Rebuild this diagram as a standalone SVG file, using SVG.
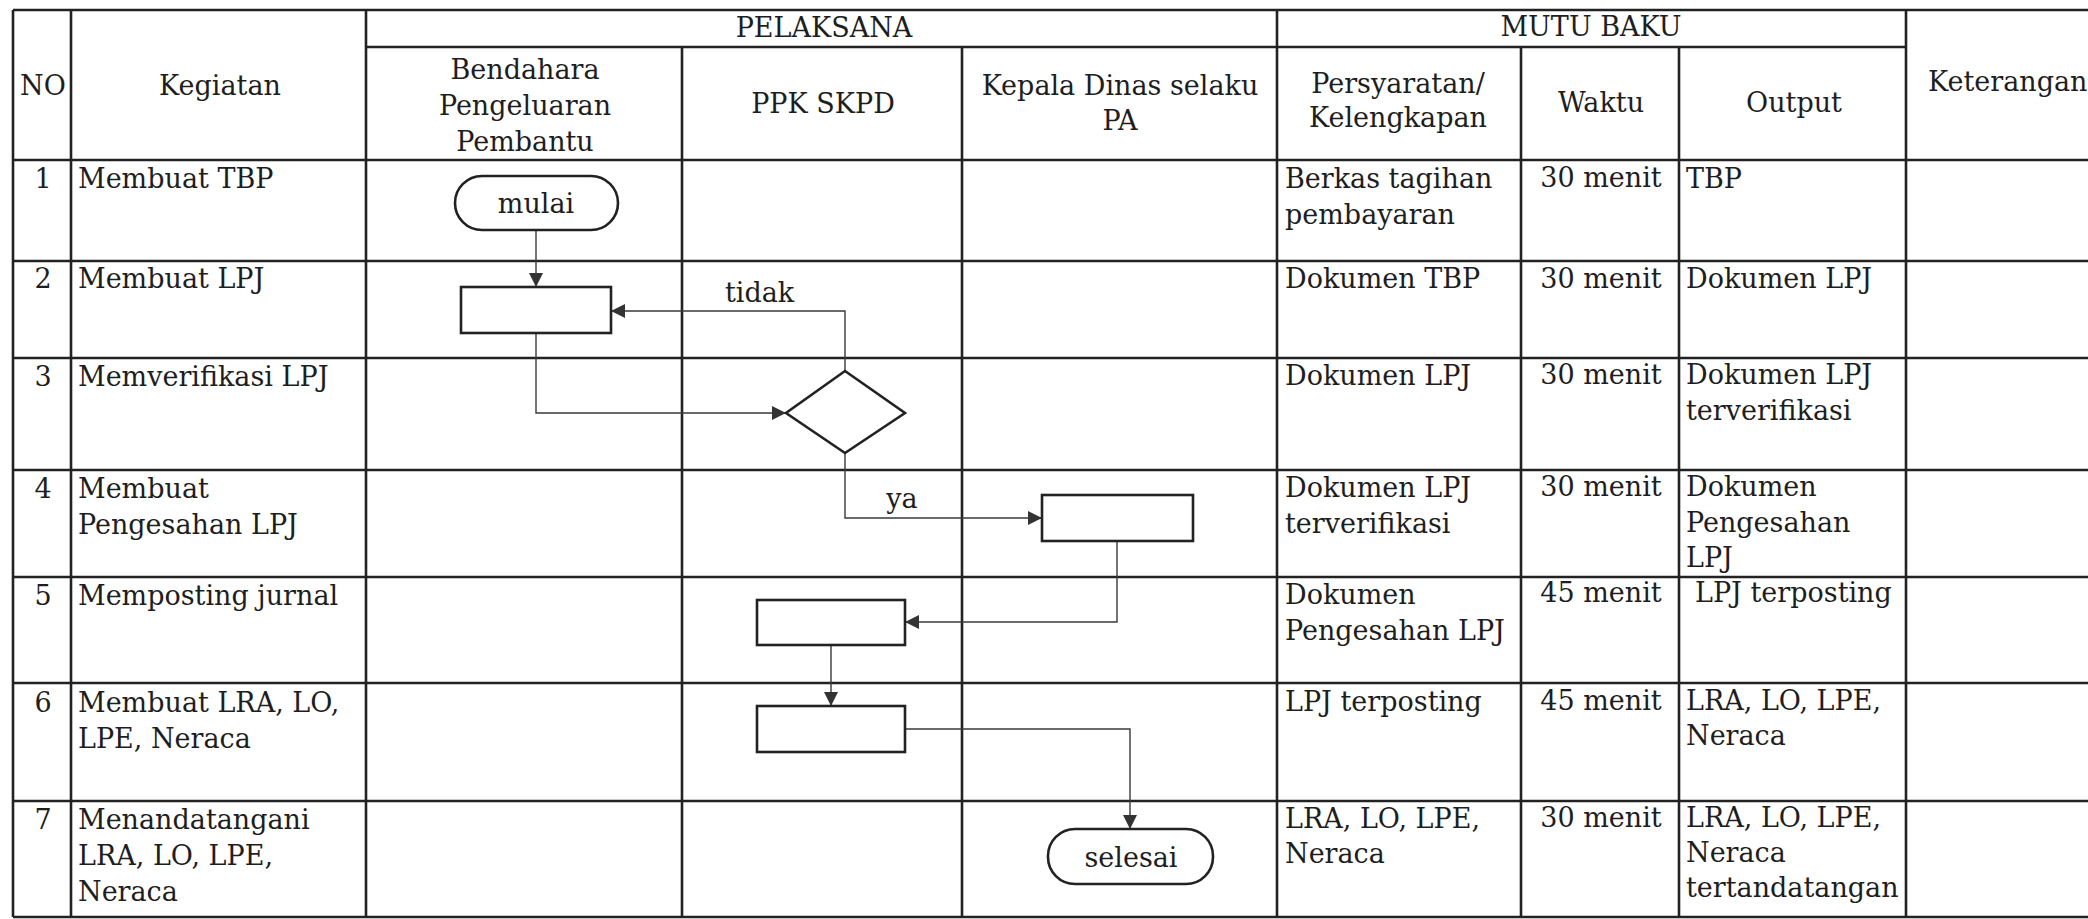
<svg xmlns="http://www.w3.org/2000/svg" width="2088" height="919" viewBox="0 0 2088 919">
<style>
  text { font-family: "DejaVu Serif", "Liberation Serif", serif; font-size: 27px; fill: #1e1e1e; }
  .c { text-anchor: middle; }
  .grid line { stroke: #222; stroke-width: 2.6; }
  .shape { fill: #fff; stroke: #222; stroke-width: 2.6; }
  .conn { fill: none; stroke: #3a3a3a; stroke-width: 1.4; }
</style>
<defs>
  <marker id="arr" markerUnits="userSpaceOnUse" markerWidth="15" markerHeight="15" refX="14" refY="7" orient="auto">
    <path d="M0,0 L14,7 L0,14 Z" fill="#333"/>
  </marker>
</defs>
<rect width="2088" height="919" fill="#fff"/>

<g id="table" class="grid">
  <!-- horizontal -->
  <line x1="13" y1="10" x2="2088" y2="10"/>
  <line x1="366" y1="47" x2="1906" y2="47"/>
  <line x1="13" y1="160" x2="2088" y2="160"/>
  <line x1="13" y1="261" x2="2088" y2="261"/>
  <line x1="13" y1="358" x2="2088" y2="358"/>
  <line x1="13" y1="470" x2="2088" y2="470"/>
  <line x1="13" y1="577" x2="2088" y2="577"/>
  <line x1="13" y1="683" x2="2088" y2="683"/>
  <line x1="13" y1="801" x2="2088" y2="801"/>
  <line x1="13" y1="917" x2="2088" y2="917"/>
  <!-- vertical -->
  <line x1="13" y1="10" x2="13" y2="917"/>
  <line x1="71" y1="10" x2="71" y2="917"/>
  <line x1="366" y1="10" x2="366" y2="917"/>
  <line x1="682" y1="47" x2="682" y2="917"/>
  <line x1="962" y1="47" x2="962" y2="917"/>
  <line x1="1277" y1="10" x2="1277" y2="917"/>
  <line x1="1521" y1="47" x2="1521" y2="917"/>
  <line x1="1679" y1="47" x2="1679" y2="917"/>
  <line x1="1906" y1="10" x2="1906" y2="917"/>
</g>

<g id="header">
  <text class="c" x="43" y="95">NO</text>
  <text class="c" x="220" y="95">Kegiatan</text>
  <text class="c" x="824" y="37">PELAKSANA</text>
  <text class="c" x="1591" y="36">MUTU BAKU</text>
  <text class="c" x="525" y="79">Bendahara</text>
  <text class="c" x="525" y="115">Pengeluaran</text>
  <text class="c" x="525" y="151">Pembantu</text>
  <text class="c" x="823" y="113">PPK SKPD</text>
  <text class="c" x="1120" y="95">Kepala Dinas selaku</text>
  <text class="c" x="1120" y="130">PA</text>
  <text class="c" x="1398" y="93">Persyaratan/</text>
  <text class="c" x="1398" y="127">Kelengkapan</text>
  <text class="c" x="1601" y="112">Waktu</text>
  <text class="c" x="1794" y="112">Output</text>
  <text x="1928" y="91">Keterangan</text>
</g>

<g id="rows">
  <!-- row 1 -->
  <text class="c" x="43" y="188">1</text>
  <text x="78" y="188">Membuat TBP</text>
  <text x="1285" y="188">Berkas tagihan</text>
  <text x="1285" y="224">pembayaran</text>
  <text class="c" x="1601" y="187">30 menit</text>
  <text x="1686" y="188">TBP</text>
  <!-- row 2 -->
  <text class="c" x="43" y="288">2</text>
  <text x="78" y="288">Membuat LPJ</text>
  <text x="1285" y="288">Dokumen TBP</text>
  <text class="c" x="1601" y="288">30 menit</text>
  <text x="1686" y="288">Dokumen LPJ</text>
  <!-- row 3 -->
  <text class="c" x="43" y="386">3</text>
  <text x="78" y="386">Memverifikasi LPJ</text>
  <text x="1285" y="385">Dokumen LPJ</text>
  <text class="c" x="1601" y="384">30 menit</text>
  <text x="1686" y="384">Dokumen LPJ</text>
  <text x="1686" y="420">terverifikasi</text>
  <!-- row 4 -->
  <text class="c" x="43" y="498">4</text>
  <text x="78" y="498">Membuat</text>
  <text x="78" y="534">Pengesahan LPJ</text>
  <text x="1285" y="497">Dokumen LPJ</text>
  <text x="1285" y="533">terverifikasi</text>
  <text class="c" x="1601" y="496">30 menit</text>
  <text x="1686" y="496">Dokumen</text>
  <text x="1686" y="532">Pengesahan</text>
  <text x="1686" y="567">LPJ</text>
  <!-- row 5 -->
  <text class="c" x="43" y="605">5</text>
  <text x="78" y="605">Memposting jurnal</text>
  <text x="1285" y="604">Dokumen</text>
  <text x="1285" y="640">Pengesahan LPJ</text>
  <text class="c" x="1601" y="602">45 menit</text>
  <text x="1695" y="602">LPJ terposting</text>
  <!-- row 6 -->
  <text class="c" x="43" y="712">6</text>
  <text x="78" y="712">Membuat LRA, LO,</text>
  <text x="78" y="748">LPE, Neraca</text>
  <text x="1285" y="711">LPJ terposting</text>
  <text class="c" x="1601" y="710">45 menit</text>
  <text x="1686" y="710">LRA, LO, LPE,</text>
  <text x="1686" y="745">Neraca</text>
  <!-- row 7 -->
  <text class="c" x="43" y="829">7</text>
  <text x="78" y="829">Menandatangani</text>
  <text x="78" y="865">LRA, LO, LPE,</text>
  <text x="78" y="901">Neraca</text>
  <text x="1285" y="828">LRA, LO, LPE,</text>
  <text x="1285" y="863">Neraca</text>
  <text class="c" x="1601" y="827">30 menit</text>
  <text x="1686" y="827">LRA, LO, LPE,</text>
  <text x="1686" y="862">Neraca</text>
  <text x="1686" y="897">tertandatangan</text>
</g>

<g id="connectors">
  <path class="conn" d="M536,230 V287" marker-end="url(#arr)"/>
  <path class="conn" d="M845,371 V311 H611" marker-end="url(#arr)"/>
  <path class="conn" d="M536,333 V413 H786" marker-end="url(#arr)"/>
  <path class="conn" d="M845,453 V518 H1042" marker-end="url(#arr)"/>
  <path class="conn" d="M1117,541 V622 H905" marker-end="url(#arr)"/>
  <path class="conn" d="M831,645 V706" marker-end="url(#arr)"/>
  <path class="conn" d="M905,729 H1130 V829" marker-end="url(#arr)"/>
  <text x="725" y="302">tidak</text>
  <text class="c" x="902" y="508">ya</text>
</g>

<g id="mulai">
  <rect class="shape" x="455" y="176" width="163" height="54" rx="27" ry="27"/>
  <text class="c" x="536" y="213">mulai</text>
</g>
<g id="buat-lpj">
  <rect class="shape" x="461" y="287" width="150" height="46"/>
</g>
<g id="verifikasi">
  <path class="shape" d="M845,371 L905,413 L845,453 L786,413 Z"/>
</g>
<g id="pengesahan">
  <rect class="shape" x="1042" y="495" width="151" height="46"/>
</g>
<g id="posting">
  <rect class="shape" x="757" y="600" width="148" height="45"/>
</g>
<g id="laporan">
  <rect class="shape" x="757" y="706" width="148" height="46"/>
</g>
<g id="selesai">
  <rect class="shape" x="1048" y="829" width="165" height="55" rx="27" ry="27"/>
  <text class="c" x="1131" y="867">selesai</text>
</g>
</svg>
